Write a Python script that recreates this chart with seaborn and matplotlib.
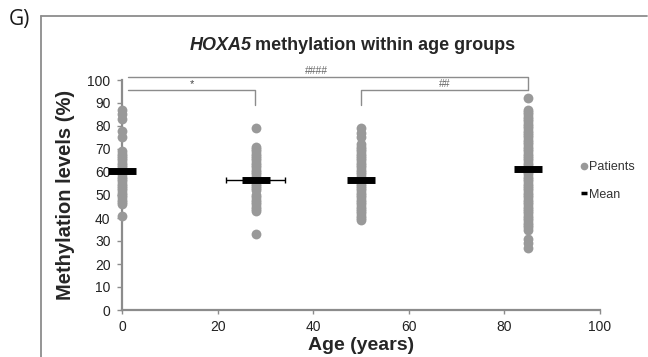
import matplotlib
matplotlib.use("Agg")
import matplotlib.pyplot as plt
from matplotlib.lines import Line2D
import seaborn as sns
import pandas as pd

# Age group positions (years)
ages = [0, 28, 50, 85]

# Individual methylation levels (%) per age group
group_0 = [87, 85, 83, 78, 75, 69, 68, 67, 66, 65, 64, 63, 62, 61, 60, 59, 58,
           57, 56, 55, 54, 53, 52, 51, 50, 49, 48, 47, 46, 41]
group_28 = [79, 71, 70, 69, 68, 67, 66, 65, 64, 63, 62, 61, 60, 59, 58, 57, 56,
            55, 54, 53, 52, 50, 49, 48, 47, 46, 45, 44, 43, 33]
group_50 = [79, 77, 75, 72, 71, 70, 69, 68, 67, 66, 65, 64, 63, 62, 61, 60, 59,
            58, 57, 56, 55, 54, 53, 52, 51, 50, 49, 48, 47, 46, 45, 44, 43, 42,
            41, 40, 39]
group_85 = [92, 87, 86, 85, 84, 83, 82, 81, 80, 79, 78, 77, 76, 75, 74, 73, 72,
            71, 70, 69, 68, 67, 66, 65, 64, 63, 62, 61, 60, 59, 58, 57, 56, 55,
            54, 53, 52, 51, 50, 49, 48, 47, 46, 45, 44, 43, 42, 41, 40, 39, 38,
            37, 36, 35, 31, 29, 27]

# Group means (%) and age spread shown for the 28-year group
means = [60.5, 56.5, 56.5, 61.5]
age_err_28 = 6.2

# Significance brackets: (x start, x end, label)
brackets = [(1.3, 85, "####"), (1.3, 27.8, "*"), (50, 85, "##")]

groups = [group_0, group_28, group_50, group_85]
rows = []
for age, vals in zip(ages, groups):
    for v in vals:
        rows.append({"age": age, "methylation": v})
df = pd.DataFrame(rows)

sns.set_style("white")
plt.rcParams["font.family"] = ["Liberation Sans", "DejaVu Sans"]

fig = plt.figure(figsize=(6.48, 3.57), dpi=100)
ax = fig.add_axes([122 / 648, 1 - 310 / 357, 478 / 648, 230 / 357])

grey = "#999999"
sns.scatterplot(data=df, x="age", y="methylation", ax=ax, color=grey,
                s=50, edgecolor=grey, linewidth=0, zorder=3, legend=False,
                clip_on=False)

# Mean bars
for age, m in zip(ages, means):
    ax.plot([age - 2.9, age + 2.9], [m, m], color="black", lw=5.0,
            solid_capstyle="butt", zorder=5, clip_on=False)

# Horizontal age spread for the 28-year group
ax.errorbar([ages[1]], [means[1]], xerr=[age_err_28], fmt="none",
            ecolor="black", elinewidth=1.0, capsize=2.5, capthick=1.0,
            zorder=4)

ax.set_xlim(0, 100)
ax.set_ylim(0, 100)
ax.set_xticks(range(0, 101, 20))
ax.set_yticks(range(0, 101, 10))

axis_grey = "#8c8c8c"
for side in ["top", "right"]:
    ax.spines[side].set_visible(False)
for side in ["left", "bottom"]:
    ax.spines[side].set_color(axis_grey)
    ax.spines[side].set_linewidth(1.6)
ax.tick_params(axis="y", direction="out", length=3.8, width=1.0,
               color=axis_grey, labelsize=10, pad=4.5, left=True,
               labelcolor="#222222")
ax.tick_params(axis="x", direction="out", length=3, width=1.0,
               color=axis_grey, labelsize=10, pad=4, bottom=True,
               labelcolor="#222222")

ax.set_xlabel("Age (years)", fontsize=14, fontweight="bold", labelpad=2)
ax.set_ylabel("Methylation levels (%)", fontsize=14.5, fontweight="bold",
              labelpad=9)

# Title with italic gene name
fig.text(0.388, 1 - 46 / 357, "HOXA5", fontsize=13, fontweight="bold",
         style="italic", ha="right", va="center")
fig.text(0.394, 1 - 46 / 357, "methylation within age groups", fontsize=13,
         fontweight="bold", ha="left", va="center")

# Significance brackets above the plot area
br_color = "#8c8c8c"
txt_color = "#666666"
top_y, mid_y, leg_y = 101.3, 95.6, 89.0
x0, x1, lab = brackets[0]
ax.plot([x0, x1, x1], [top_y, top_y, mid_y], color=br_color, lw=1.0,
        clip_on=False)
ax.text((x0 + x1) / 2 - 2.5, top_y + 0.6, lab, fontsize=7.5, color=txt_color,
        ha="center", va="bottom")
x0, x1, lab = brackets[1]
ax.plot([x0, x1, x1], [mid_y, mid_y, leg_y], color=br_color, lw=1.0,
        clip_on=False)
ax.text((x0 + x1) / 2, mid_y + 0.6, lab, fontsize=8, color="#444444",
        ha="center", va="bottom")
x0, x1, lab = brackets[2]
ax.plot([x0, x0, x1], [leg_y, mid_y, mid_y], color=br_color, lw=1.0,
        clip_on=False)
ax.text((x0 + x1) / 2, mid_y + 0.6, lab, fontsize=7.5, color=txt_color,
        ha="center", va="bottom")

# Legend
handles = [
    Line2D([], [], marker="o", color=grey, linestyle="none", markersize=4.5),
    Line2D([], [], marker="_", color="black", linestyle="none",
           markersize=5, markeredgewidth=2.5),
]
leg = ax.legend(handles, ["Patients", "Mean"], loc="center left",
                bbox_to_anchor=(581 / 648, 1 - 181 / 357),
                bbox_transform=fig.transFigure, frameon=False, fontsize=9,
                handlelength=0.5, handletextpad=0.15, labelspacing=1.2,
                borderaxespad=0, borderpad=0)
for t in leg.get_texts():
    t.set_color("#333333")

# Panel frame and panel letter
frame_col = "#8c8c8c"
fig.add_artist(Line2D([41 / 648, 41 / 648], [0, 1 - 16 / 357],
                      transform=fig.transFigure, color=frame_col, lw=1.3))
fig.add_artist(Line2D([41 / 648, 647 / 648], [1 - 16 / 357, 1 - 16 / 357],
                      transform=fig.transFigure, color=frame_col, lw=1.3))
fig.text(9 / 648, 1 - 19 / 357, "G)", fontsize=15, family="Open Sans",
         ha="left", va="center", color="#1a1a1a")

fig.savefig("out.png", dpi=100)
